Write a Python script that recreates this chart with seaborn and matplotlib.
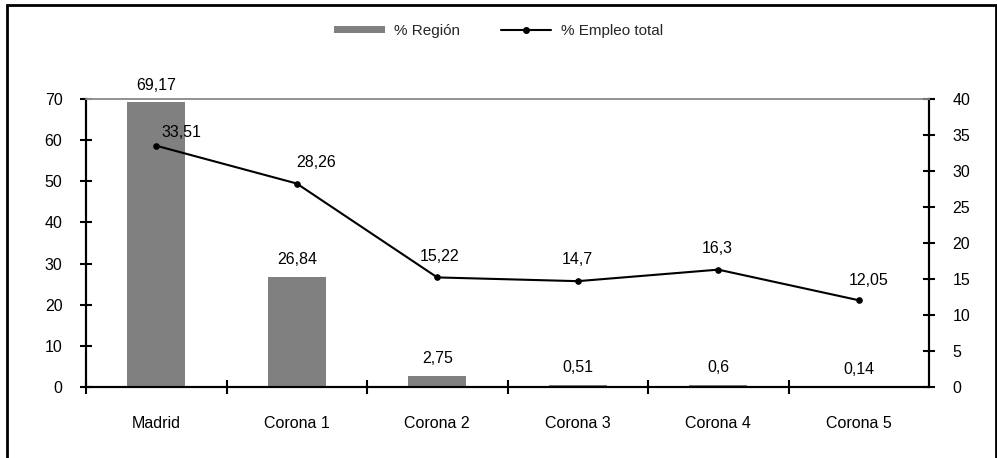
import matplotlib
matplotlib.use("Agg")
import matplotlib.pyplot as plt
import seaborn as sns
import pandas as pd
from matplotlib.patches import Rectangle
from matplotlib.lines import Line2D
from matplotlib.patches import Patch

categories = ["Madrid", "Corona 1", "Corona 2", "Corona 3", "Corona 4", "Corona 5"]
pct_region = [69.17, 26.84, 2.75, 0.51, 0.6, 0.14]
pct_empleo = [33.51, 28.26, 15.22, 14.7, 16.3, 12.05]
left_ticks = [0, 10, 20, 30, 40, 50, 60, 70]
right_ticks = [0, 5, 10, 15, 20, 25, 30, 35, 40]

sns.set_theme(style="white")
plt.rcParams["font.family"] = ["Liberation Sans", "DejaVu Sans"]

FS = 11.5

def fmt(v):
    return f"{v:g}".replace(".", ",")

df = pd.DataFrame({"cat": categories, "region": pct_region, "empleo": pct_empleo})

fig = plt.figure(figsize=(9.97, 4.58), dpi=100)
ax = fig.add_axes([86/997, 1-387/458, (929-86)/997, (387-99)/458])

sns.barplot(data=df, x="cat", y="region", color="#808080", saturation=1,
            width=0.41, ax=ax, order=categories)
for p in ax.patches:
    p.set_edgecolor("none")
ax.set_xlim(-0.5, 5.5)
ax.set_ylim(0, 70)
ax.set_yticks(left_ticks)
ax.set_xlabel("")
ax.set_ylabel("")

ax2 = ax.twinx()
sns.lineplot(x=list(range(len(categories))), y=pct_empleo, ax=ax2, color="black",
             linewidth=1.5, marker="o", markersize=4, markeredgecolor="black")
ax2.set_ylim(0, 40)
ax2.set_yticks(right_ticks)
ax2.set_ylabel("")
ax2.set_xlim(-0.5, 5.5)

# x ticks at category boundaries, labels at centers
ax.set_xticks([i + 0.5 for i in range(len(categories) - 1)] + [-0.5])
ax.set_xticklabels([])
for i, c in enumerate(categories):
    ax.text(i, -0.125, c, transform=ax.get_xaxis_transform(), ha="center", va="center",
            fontsize=FS, color="black")

for a in (ax, ax2):
    for s in a.spines.values():
        s.set_linewidth(1.5)
        s.set_color("black")
    a.spines["top"].set_color("#909090")
    a.spines["top"].set_linewidth(1.2)
ax.tick_params(axis="y", direction="inout", length=8, width=1.5, labelsize=FS, pad=13, left=True, colors="black")
ax.tick_params(axis="x", direction="inout", length=10, width=1.5, bottom=True, colors="black")
ax2.tick_params(axis="y", direction="inout", length=8, width=1.5, labelsize=FS, pad=13, right=True, colors="black")

# bar labels
for i, v in enumerate(pct_region):
    ax.annotate(fmt(v), (i, v), xytext=(0, 7), textcoords="offset points",
                ha="center", va="bottom", fontsize=FS, color="black")

# line labels
line_dx = [18, 14, 2, 0, -1, 7]
line_dy = [4, 10, 10, 10, 10, 9]
for i, v in enumerate(pct_empleo):
    ax2.annotate(fmt(v), (i, v), xytext=(line_dx[i], line_dy[i]), textcoords="offset points",
                 ha="center", va="bottom", fontsize=FS, color="black")

handles = [Patch(facecolor="#808080", edgecolor="none"),
           Line2D([0], [0], color="black", linewidth=1.5, marker="o", markersize=4)]
fig.legend(handles, ["% Región", "% Empleo total"], loc="center", bbox_to_anchor=(0.5, 1-31/458),
           ncol=2, frameon=False, fontsize=11, handlelength=3.3, handleheight=0.4,
           columnspacing=2.7, handletextpad=0.6)

fig.patches.append(Rectangle((7/997, -0.05), (996-7)/997, 1.05 - 5/458, transform=fig.transFigure,
                             fill=False, edgecolor="black", linewidth=2))

fig.savefig("out.png", dpi=100)
